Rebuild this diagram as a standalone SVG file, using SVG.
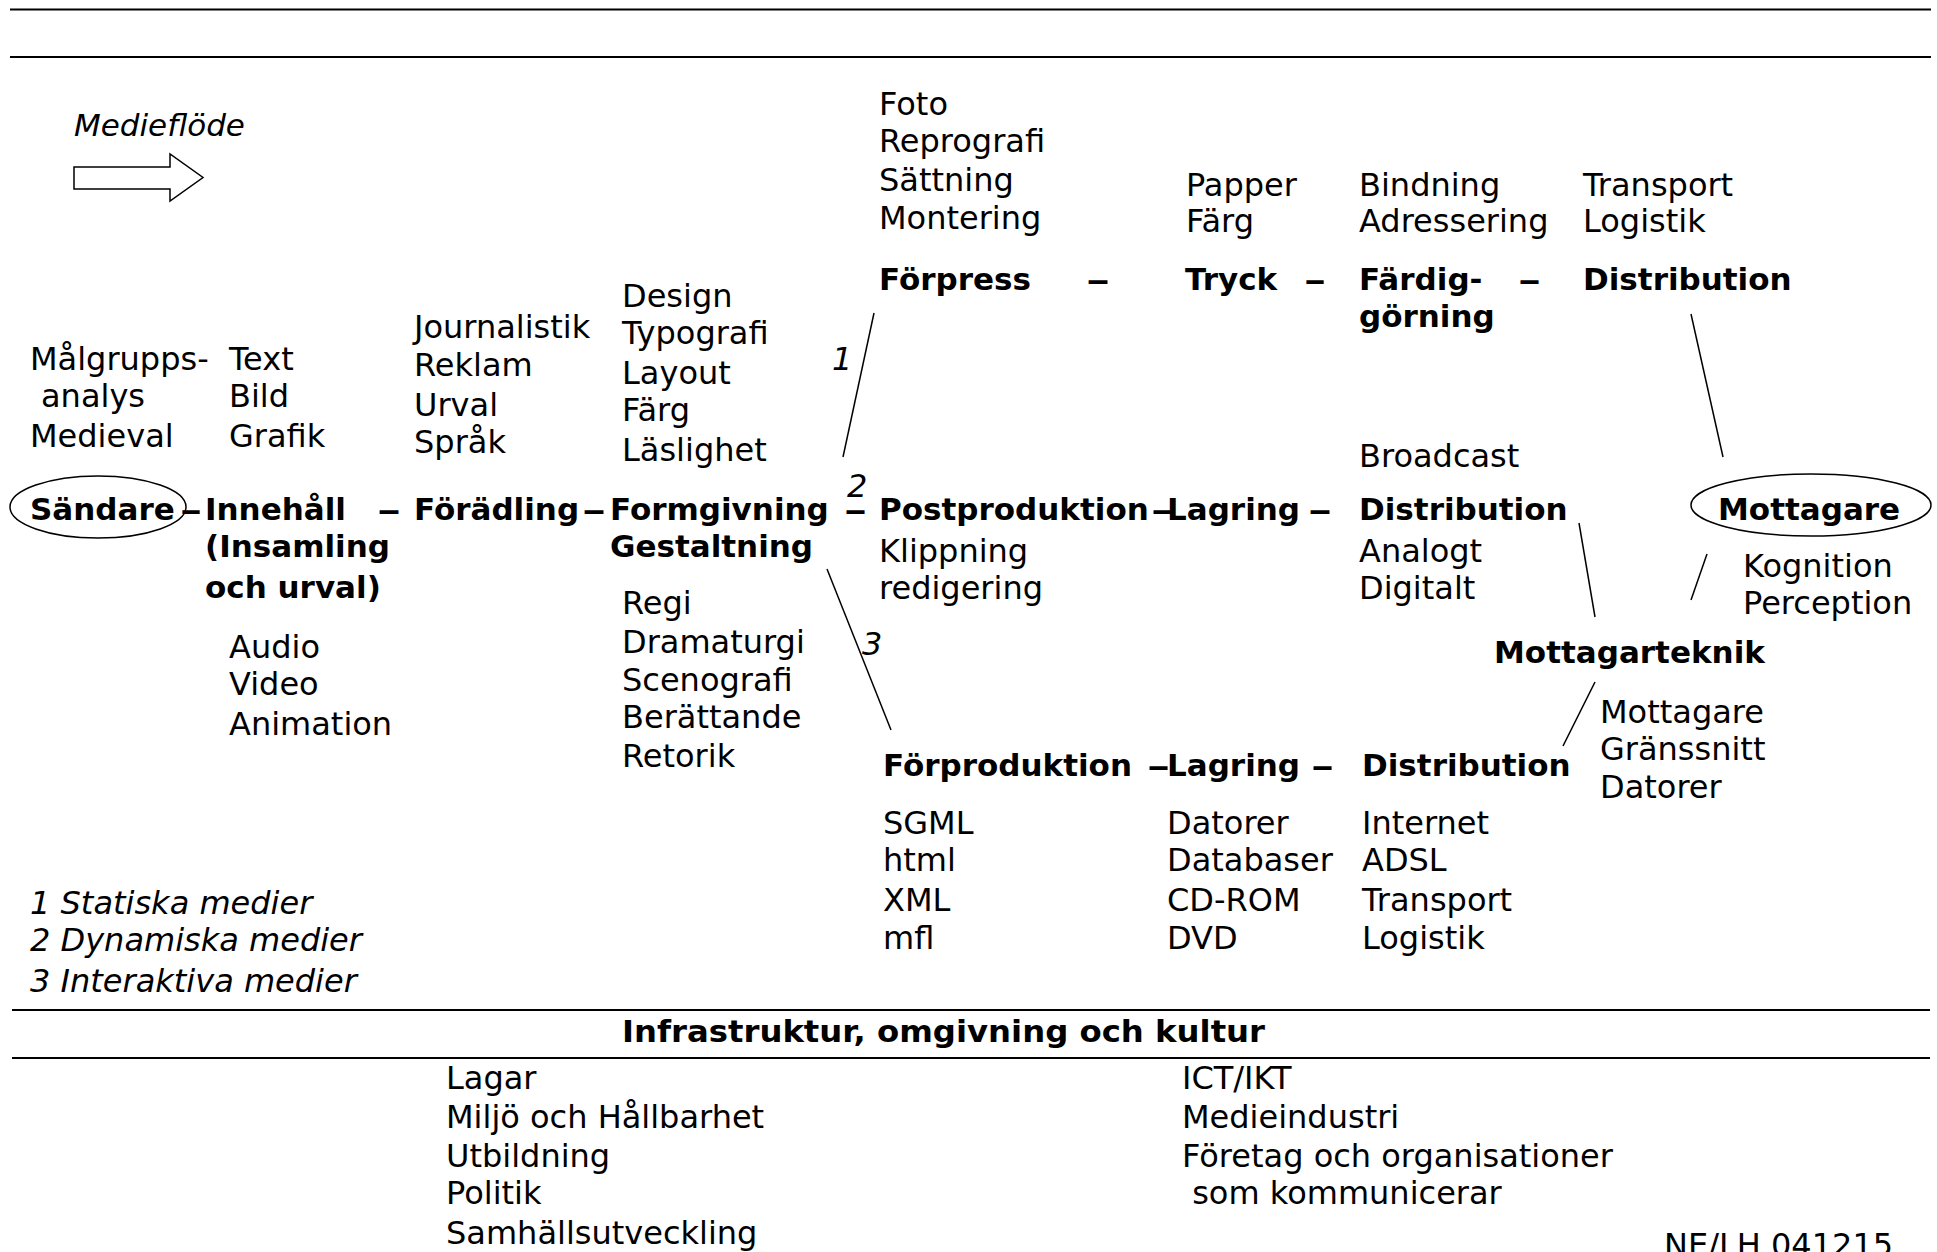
<svg xmlns="http://www.w3.org/2000/svg" width="1937" height="1252" viewBox="0 0 1937 1252">
<style>
text{font-family:"DejaVu Sans","Verdana",sans-serif;font-size:32px;fill:#000}
.b{font-weight:bold;font-size:31px}
.i{font-style:italic}
.rule{stroke:#000;stroke-width:2;fill:none}
.con{stroke:#000;stroke-width:1.5;fill:none}
.ell{stroke:#000;stroke-width:1.5;fill:none}
</style>
<rect x="0" y="0" width="1937" height="1252" fill="#fff"/>
<g id="rules">
<line class="rule" x1="10" y1="9.5" x2="1931" y2="9.5"/>
<line class="rule" x1="10" y1="57" x2="1931" y2="57"/>
<line class="rule" x1="12" y1="1010" x2="1930" y2="1010"/>
<line class="rule" x1="12" y1="1058" x2="1930" y2="1058"/>
</g>
<g id="legend-flow">
<text class="i" x="74" y="136" style="font-size:31px">Medieflöde</text>
<polygon points="74,167 170,167 170,154 203,177.5 170,201 170,189 74,189" fill="#fff" stroke="#000" stroke-width="1.5"/>
</g>
<g id="connectors">
<line class="con" x1="874" y1="313" x2="843" y2="457"/>
<line class="con" x1="827" y1="569" x2="891" y2="730"/>
<line class="con" x1="1691" y1="314" x2="1723" y2="457"/>
<line class="con" x1="1579" y1="523" x2="1595" y2="617"/>
<line class="con" x1="1595" y1="682" x2="1563" y2="746"/>
<line class="con" x1="1707" y1="554" x2="1691" y2="600"/>
<text class="i" x="832" y="370">1</text>
<text class="i" x="847" y="497">2</text>
<text class="i" x="862" y="655">3</text>
</g>
<g id="sandare">
<ellipse class="ell" cx="98" cy="507" rx="88" ry="31"/>
<text class="b" x="30" y="520">Sändare</text>
<text x="30" y="370">Målgrupps-</text>
<text x="41" y="407">analys</text>
<text x="30" y="447">Medieval</text>
</g>
<g id="innehall">
<text class="b" x="180" y="520" textLength="22" lengthAdjust="spacingAndGlyphs">–</text>
<text class="b" x="205" y="520">Innehåll</text>
<text class="b" x="205" y="557">(Insamling</text>
<text class="b" x="205" y="598">och urval)</text>
<text x="229" y="370">Text</text>
<text x="229" y="407">Bild</text>
<text x="229" y="447">Grafik</text>
<text x="229" y="658">Audio</text>
<text x="229" y="695">Video</text>
<text x="229" y="735">Animation</text>
</g>
<g id="foradling">
<text class="b" x="377" y="520" textLength="24" lengthAdjust="spacingAndGlyphs">–</text>
<text class="b" x="414" y="520">Förädling</text>
<text x="414" y="338">Journalistik</text>
<text x="414" y="376">Reklam</text>
<text x="414" y="416">Urval</text>
<text x="414" y="453">Språk</text>
</g>
<g id="formgivning">
<text class="b" x="582" y="520" textLength="24" lengthAdjust="spacingAndGlyphs">–</text>
<text class="b" x="610" y="520">Formgivning</text>
<text class="b" x="610" y="557">Gestaltning</text>
<text x="622" y="307">Design</text>
<text x="622" y="344">Typografi</text>
<text x="622" y="384">Layout</text>
<text x="622" y="421">Färg</text>
<text x="622" y="461">Läslighet</text>
<text x="622" y="614">Regi</text>
<text x="622" y="653">Dramaturgi</text>
<text x="622" y="691">Scenografi</text>
<text x="622" y="728">Berättande</text>
<text x="622" y="767">Retorik</text>
</g>
<g id="forpress">
<text class="b" x="879" y="290">Förpress</text>
<text class="b" x="1086" y="290" textLength="24" lengthAdjust="spacingAndGlyphs">–</text>
<text x="879" y="115">Foto</text>
<text x="879" y="152">Reprografi</text>
<text x="879" y="191">Sättning</text>
<text x="879" y="229">Montering</text>
</g>
<g id="tryck">
<text class="b" x="1185" y="290">Tryck</text>
<text class="b" x="1304" y="290" textLength="22" lengthAdjust="spacingAndGlyphs">–</text>
<text x="1186" y="196">Papper</text>
<text x="1186" y="232">Färg</text>
</g>
<g id="fardiggorning">
<text class="b" x="1359" y="290">Färdig-</text>
<text class="b" x="1359" y="327">görning</text>
<text class="b" x="1518" y="290" textLength="23" lengthAdjust="spacingAndGlyphs">–</text>
<text x="1359" y="196">Bindning</text>
<text x="1359" y="232">Adressering</text>
</g>
<g id="distribution-top">
<text class="b" x="1583" y="290">Distribution</text>
<text x="1583" y="196">Transport</text>
<text x="1583" y="232">Logistik</text>
</g>
<g id="postproduktion">
<text class="b" x="844" y="520" textLength="23" lengthAdjust="spacingAndGlyphs">–</text>
<text class="b" x="879" y="520">Postproduktion</text>
<text class="b" x="1151" y="520" textLength="23" lengthAdjust="spacingAndGlyphs">–</text>
<text x="879" y="562">Klippning</text>
<text x="879" y="599">redigering</text>
</g>
<g id="lagring-mid">
<text class="b" x="1167" y="520">Lagring</text>
<text class="b" x="1308" y="520" textLength="24" lengthAdjust="spacingAndGlyphs">–</text>
</g>
<g id="distribution-mid">
<text class="b" x="1359" y="520">Distribution</text>
<text x="1359" y="467">Broadcast</text>
<text x="1359" y="562">Analogt</text>
<text x="1359" y="599">Digitalt</text>
</g>
<g id="mottagare">
<ellipse class="ell" cx="1811" cy="505" rx="120" ry="31"/>
<text class="b" x="1718" y="520">Mottagare</text>
<text x="1743" y="577">Kognition</text>
<text x="1743" y="614">Perception</text>
</g>
<g id="mottagarteknik">
<text class="b" x="1494" y="663">Mottagarteknik</text>
<text x="1600" y="723">Mottagare</text>
<text x="1600" y="760">Gränssnitt</text>
<text x="1600" y="798">Datorer</text>
</g>
<g id="forproduktion">
<text class="b" x="883" y="776">Förproduktion</text>
<text class="b" x="1147" y="776" textLength="23" lengthAdjust="spacingAndGlyphs">–</text>
<text x="883" y="834">SGML</text>
<text x="883" y="871">html</text>
<text x="883" y="911">XML</text>
<text x="883" y="949">mfl</text>
</g>
<g id="lagring-bottom">
<text class="b" x="1167" y="776">Lagring</text>
<text class="b" x="1311" y="776" textLength="23" lengthAdjust="spacingAndGlyphs">–</text>
<text x="1167" y="834">Datorer</text>
<text x="1167" y="871">Databaser</text>
<text x="1167" y="911">CD-ROM</text>
<text x="1167" y="949">DVD</text>
</g>
<g id="distribution-bottom">
<text class="b" x="1362" y="776">Distribution</text>
<text x="1362" y="834">Internet</text>
<text x="1362" y="871">ADSL</text>
<text x="1362" y="911">Transport</text>
<text x="1362" y="949">Logistik</text>
</g>
<g id="legend-media">
<text class="i" x="30" y="914">1 Statiska medier</text>
<text class="i" x="30" y="951">2 Dynamiska medier</text>
<text class="i" x="30" y="992">3 Interaktiva medier</text>
</g>
<g id="infrastruktur">
<text class="b" x="622" y="1042" textLength="643" lengthAdjust="spacingAndGlyphs">Infrastruktur, omgivning och kultur</text>
<text x="446" y="1089">Lagar</text>
<text x="446" y="1128">Miljö och Hållbarhet</text>
<text x="446" y="1167">Utbildning</text>
<text x="446" y="1204">Politik</text>
<text x="446" y="1244">Samhällsutveckling</text>
<text x="1182" y="1089">ICT/IKT</text>
<text x="1182" y="1128">Medieindustri</text>
<text x="1182" y="1167">Företag och organisationer</text>
<text x="1182" y="1204" xml:space="preserve"> som kommunicerar</text>
<text x="1664" y="1256">NE/LH 041215</text>
</g>
</svg>
